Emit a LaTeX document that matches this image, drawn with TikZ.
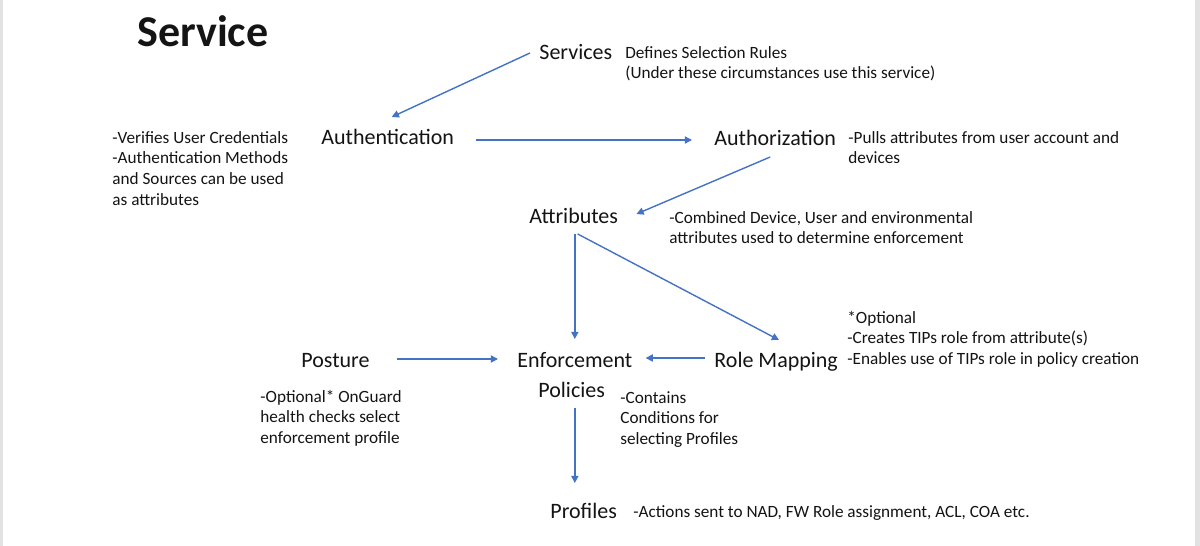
\documentclass[tikz,border=0pt]{standalone}
\usepackage{fontspec}
\setmainfont{Carlito}
\usetikzlibrary{arrows.meta}
\definecolor{arrblue}{HTML}{4472C4}
\definecolor{txt}{HTML}{141414}
\definecolor{edge}{HTML}{E2E2E2}
\newcommand{\mylines}[1]{\begin{tabular}[t]{@{}l@{}}#1\end{tabular}}
\begin{document}
\begin{tikzpicture}[x=0.5pt,y=-0.5pt,
  big/.style={anchor=base west,inner sep=0pt,text=txt,font=\fontsize{11}{13.4}\selectfont},
  small/.style={anchor=base west,inner sep=0pt,text=txt,font=\fontsize{8.6}{10.35}\selectfont},
  arr/.style={draw=arrblue,line width=0.7pt,-{Triangle[length=3.6pt,width=3.6pt]}}]
\fill[white] (0,0) rectangle (1200,546);
\fill[edge] (0,0) rectangle (3,546);
\fill[edge] (1195,0) rectangle (1200,546);
\useasboundingbox (0,0) rectangle (1200,546);

% title
\node[anchor=base west,inner sep=0pt,text=txt,font=\fontsize{22}{26}\selectfont\bfseries] (title) at (137,46.7) {Service};

% nodes
\node[big] (services) at (539,60) {Services};
\node[small] (servdesc) at (625,58) {\mylines{Defines Selection Rules\\(Under these circumstances use this service)}};

\node[big] (auth) at (321,144) {Authentication};
\node[small] (authdesc) at (112,143) {\mylines{-Verifies User Credentials\\-Authentication Methods\\and Sources can be used\\as attributes}};

\node[big] (authz) at (714,145) {Authorization};
\node[small] (authzdesc) at (848,143) {\mylines{-Pulls attributes from user account and\\devices}};

\node[big] (attr) at (529,223) {Attributes};
\node[small] (attrdesc) at (669,223) {\mylines{-Combined Device, User and environmental\\attributes used to determine enforcement}};

\node[big] (posture) at (301,367) {Posture};
\node[small] (posturedesc) at (260,402) {\mylines{-Optional* OnGuard\\health checks select\\enforcement profile}};

\node[big] (enf) at (517,367) {Enforcement};
\node[big] (policies) at (538,397) {Policies};
\node[small] (policiesdesc) at (620,403) {\mylines{-Contains\\Conditions for\\selecting Profiles}};

\node[big] (rm) at (714,367) {Role Mapping};
\node[small] (rmdesc) at (847,323) {\mylines{*Optional\\-Creates TIPs role from attribute(s)\\-Enables use of TIPs role in policy creation}};

\node[big] (profiles) at (550,518) {Profiles};
\node[small] (profdesc) at (633,517) {-Actions sent to NAD, FW Role assignment, ACL, COA etc.};

% connectors
\draw[arr] ([shift={(-9,-7)}]services.base west) -- ([shift={(4,-27)}]auth.base);
\draw[arr] ([shift={(22,-4)}]auth.base east) -- ([shift={(-22,-5)}]authz.base west);
\draw[arr] ([shift={(-5,12)}]authz.base) -- ([shift={(18,-9)}]attr.base east);
\draw[arr] ([yshift=-5.5pt]attr.base -| enf.base) -- ([yshift=14pt]enf.base);
\draw[arr] ([shift={(4,11)}]attr.base) -- ([shift={(65,-27)}]rm.base west);
\draw[arr] ([shift={(27,-8)}]posture.base east) -- ([shift={(-19,-8)}]enf.base west);
\draw[arr] ([shift={(-9,-9)}]rm.base west) -- ([shift={(13,-9)}]enf.base east);
\draw[arr] ([yshift=-5.5pt]policies.base -| enf.base) -- ([yshift=17.5pt]profiles.base -| enf.base);
\end{tikzpicture}
\end{document}
